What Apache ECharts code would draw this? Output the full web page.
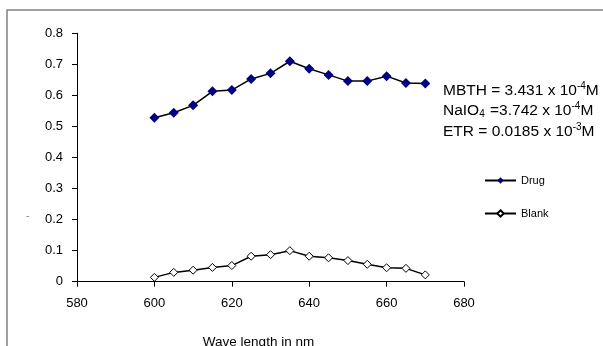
<!DOCTYPE html>
<html><head><meta charset="utf-8">
<script src="https://cdn.jsdelivr.net/npm/echarts@6/dist/echarts.min.js"></script>
<style>html,body{margin:0;padding:0;background:#fff}#c{width:603px;height:346px}</style>
</head><body><div id="c"></div>
<script>
var wavelengths = [600,605,610,615,620,625,630,635,640,645,650,655,660,665,670];
var drug = [0.528,0.544,0.568,0.613,0.617,0.653,0.671,0.710,0.686,0.666,0.646,0.646,0.662,0.640,0.638];
var blank = [0.014,0.030,0.037,0.046,0.052,0.082,0.087,0.100,0.082,0.077,0.068,0.056,0.045,0.043,0.022];
var xTicks = [580,600,620,640,660,680];
var yTicks = [0,0.1,0.2,0.3,0.4,0.5,0.6,0.7,0.8];
var seriesNames = ['Drug','Blank'];
var xTitle = 'Wave length in nm';

function pairs(xs, ys){ return xs.map(function(x,i){return [x, ys[i]];}); }

var chart = echarts.init(document.getElementById('c'), null, {renderer:'canvas'});
var font = 'Arial, "Liberation Sans", sans-serif';
chart.setOption({
  animation:false,
  backgroundColor:'#fff',
  grid:{left:77, right:139, top:33.3, bottom:64.3, containLabel:false, outerBoundsMode:'none'},
  xAxis:{type:'value', min:xTicks[0], max:xTicks[xTicks.length-1], interval:20,
    axisLine:{onZero:false, lineStyle:{color:'#000', width:1}},
    axisTick:{show:true, length:5, inside:false, lineStyle:{color:'#000'}},
    axisLabel:{fontFamily:font, fontSize:13, color:'#000', margin:15},
    splitLine:{show:false}},
  yAxis:{type:'value', min:yTicks[0], max:yTicks[yTicks.length-1], interval:0.1,
    axisLine:{show:true, lineStyle:{color:'#000', width:1}},
    axisTick:{show:true, length:5, lineStyle:{color:'#000'}},
    axisLabel:{fontFamily:font, fontSize:13, color:'#000', margin:14,
      formatter:function(v){return v===0?'0':v.toFixed(1);}},
    splitLine:{show:false}},
  legend:{orient:'vertical', left:484, top:175, padding:0, itemWidth:31, itemHeight:8, itemGap:22,
    textStyle:{fontFamily:font, fontSize:11, color:'#000'},
    data:seriesNames},
  series:[
    {name:seriesNames[0], type:'line', data:pairs(wavelengths, drug),
     symbol:'diamond', symbolSize:10,
     itemStyle:{color:'#000080', borderWidth:0},
     lineStyle:{color:'#000', width:1.5}},
    {name:seriesNames[1], type:'line', data:pairs(wavelengths, blank),
     symbol:'diamond', symbolSize:8,
     itemStyle:{color:'#fff', borderColor:'#000', borderWidth:1},
     lineStyle:{color:'#000', width:1.5}}
  ],
  graphic:[
    {type:'rect', shape:{x:7, y:10, width:700, height:400}, style:{fill:'none', stroke:'#808080', lineWidth:1.5}, silent:true},
    {type:'text', left:26, top:211, style:{text:'-', fill:'#808080', font:'10px Arial'}},
    {type:'text', x:258.5, y:335, style:{text:xTitle, fill:'#000', font:'13.5px Arial, "Liberation Sans", sans-serif', align:'center', verticalAlign:'top'}},
    {type:'text', left:443, top:81, style:{
      text:'{a|MBTH = 3.431 x 10}{s|-4}{a|M}\n{a|NaIO}{b|4}{a| =3.742 x 10}{s|-4}{a|M}\n{a|ETR = 0.0185 x 10}{s|-3}{a|M}',
      rich:{
        a:{fontFamily:font, fontSize:15.5, fill:'#000', lineHeight:20.5},
        s:{fontFamily:font, fontSize:10, fill:'#000', lineHeight:20.5, padding:[0,0,9,0]},
        b:{fontFamily:font, fontSize:10, fill:'#000', lineHeight:20.5, padding:[0,1,-6,0]}
      }}}
  ]
});
</script></body></html>
